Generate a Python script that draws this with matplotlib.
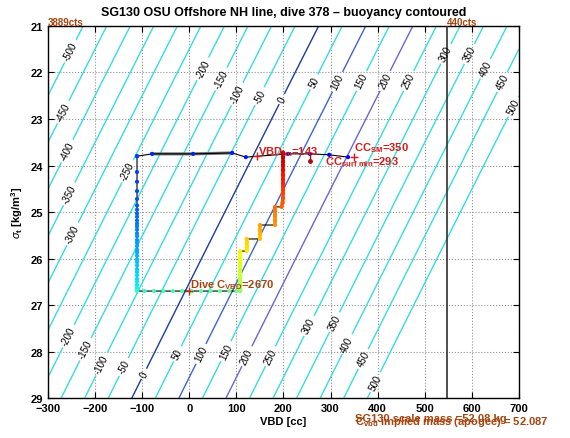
import numpy as np
import matplotlib
matplotlib.use('Agg')
import matplotlib.pyplot as plt
from matplotlib.collections import LineCollection

plt.rcParams['font.family'] = ['Liberation Sans', 'DejaVu Sans']
plt.rcParams['mathtext.fontset'] = 'custom'
plt.rcParams['mathtext.rm'] = 'Liberation Sans:bold'
plt.rcParams['mathtext.it'] = 'Liberation Sans:italic'
plt.rcParams['mathtext.bf'] = 'Liberation Sans:bold'

# glider constants
mass_g = 52087.0       # C_vbd implied mass (apogee)
vol0_cc = 50741.0      # displaced volume at VBD = 0
vbd_max = 547          # 440 cts
buoy_levels = np.arange(-500, 501, 50)
blue_levels = {0: '#1c3c9c', 100: '#4064cc', 200: '#6868d0'}

# contour label sigma positions (upper / lower rows)
upper_lab_sig = [21.54, 22.85, 23.69, 24.61, 25.47, 24.12, 21.92, 22.14, 22.46, 22.51, 22.57,
                 22.20, 22.20, 22.18, 22.18, 22.18, 21.60, 21.60, 21.92, 22.20, 22.74]
lower_lab_lev = [-200, -150, -100, -50, 0, 50, 100, 150, 200, 250, 300, 350, 400, 450, 500]
lower_lab_sig = [27.67, 27.95, 28.27, 28.33, 28.48, 28.05, 28.05, 27.99, 28.10, 28.10,
                 27.45, 27.37, 27.84, 28.16, 28.66]

# surface bleed at start of dive
surf_vbd = [337, 297, 256, 210, 120, 91, 8, -79, -111]
surf_sig = [23.82, 23.77, 23.75, 23.75, 23.82, 23.73, 23.75, 23.75, 23.80]
# descent at minimum VBD
desc_sig = [23.80, 24.14, 24.35, 24.55, 24.72, 24.86, 24.95, 25.03, 25.10, 25.18, 25.25,
            25.31, 25.38, 25.46, 25.52, 25.60, 25.66, 25.73, 25.81, 25.87, 25.94, 26.02,
            26.08, 26.15, 26.23, 26.29, 26.36, 26.44, 26.50, 26.57, 26.63, 26.68]
desc_vbd = [-111] * len(desc_sig)
# apogee pump
apo_vbd = [-111, -95, -75, -55, -35, -15, 5, 25, 45, 65, 85, 100, 108]
apo_sig = [26.70] * len(apo_vbd)
# climb
climb_vbd = [108, 108, 108, 108, 108, 108, 108, 108, 108, 108,
             122, 122, 122, 122, 150, 150, 150, 150,
             182, 182, 182, 182, 182, 196, 198,
             199, 199, 199, 199, 199, 199, 199, 199, 199, 199, 199, 199]
climb_sig = [26.66, 26.58, 26.50, 26.42, 26.34, 26.26, 26.18, 26.10, 26.00, 25.84,
             25.84, 25.76, 25.67, 25.58, 25.58, 25.48, 25.38, 25.28,
             25.28, 25.18, 25.08, 24.98, 24.89, 24.89, 24.80,
             24.70, 24.60, 24.52, 24.45, 24.38, 24.30, 24.20, 24.10, 24.00, 23.92, 23.82, 23.72]

vbd_tm = 143
vbd_tm_sig = 23.80
cc_sm = 350
cc_sm_sig = 23.82
cc_surf_min = 293
dive_cvbd = 2670
dive_cvbd_vbd = 0
tick_vbd = 256
tick_sig = [23.75, 23.90]

red = '#d41a1a'
brown = '#a5450f'


def vbd_on_level(level, sig):
    return level - vol0_cc + mass_g / (1 + sig / 1000.0)


fig = plt.figure(figsize=(5.7, 4.39), dpi=100)
ax = fig.add_axes([0.0842, 0.0911, 0.8263, 0.8474])
ax.set_xlim(-300, 700)
ax.set_ylim(29, 21)

# buoyancy contours
xg = np.linspace(-300, 700, 400)
yg = np.linspace(21, 29, 200)
X, Y = np.meshgrid(xg, yg)
B = X + vol0_cc - mass_g / (1 + Y / 1000.0)
cols = [blue_levels.get(int(l), '#35dede') for l in buoy_levels]
cs = ax.contour(X, Y, B, levels=buoy_levels, colors=cols, linewidths=1.0, zorder=2)
pos = [(vbd_on_level(l, s), s) for l, s in zip(buoy_levels, upper_lab_sig)]
pos += [(vbd_on_level(l, s), s) for l, s in zip(lower_lab_lev, lower_lab_sig)]
ax.clabel(cs, manual=pos, inline=True, inline_spacing=3, fontsize=7, fmt='%d', colors='k')

# label angle along the lines in screen space (y axis is reversed)
p_top = ax.transData.transform((vbd_on_level(0, 22), 22))
p_bot = ax.transData.transform((vbd_on_level(0, 28), 28))
ang = np.degrees(np.arctan2(p_top[1] - p_bot[1], p_top[0] - p_bot[0]))
for t in cs.labelTexts:
    t.set_rotation(ang)

ax.axvline(vbd_max, color='#303030', lw=1.2, zorder=3)

# dive path
all_vbd = surf_vbd + desc_vbd + apo_vbd + climb_vbd
all_sig = surf_sig + desc_sig + apo_sig + climb_sig
ax.plot(surf_vbd[5:8], surf_sig[5:8], color='#707070', lw=2.2, zorder=3.8)
ax.plot(all_vbd, all_sig, color='k', lw=0.8, zorder=4)

cmap = plt.get_cmap('jet')
c_surf = cmap(np.linspace(0.12, 0.17, len(surf_vbd)))
c_desc = cmap(np.linspace(0.18, 0.37, len(desc_vbd)))
c_apo = cmap(np.linspace(0.40, 0.50, len(apo_vbd)))
c_climb = cmap(np.linspace(0.55, 0.95, len(climb_vbd)))

segs, seg_cols = [], []
for i in range(len(climb_vbd) - 1):
    if abs(climb_vbd[i] - climb_vbd[i + 1]) < 3:
        segs.append([(climb_vbd[i], climb_sig[i]), (climb_vbd[i + 1], climb_sig[i + 1])])
        seg_cols.append(c_climb[i])
ax.add_collection(LineCollection(segs, colors=seg_cols, linewidths=2.6, zorder=4.5))

ax.scatter(all_vbd, all_sig, s=9, c=np.vstack([c_surf, c_desc, c_apo, c_climb]),
           edgecolors='none', zorder=5)

# markers
ax.plot([tick_vbd, tick_vbd], tick_sig, color='#a01010', lw=1, zorder=5)
ax.plot(tick_vbd, tick_sig[1], 'o', color='#a01010', ms=2.5, zorder=5)
ax.plot([vbd_tm, cc_sm], [vbd_tm_sig, cc_sm_sig], '+', color=red, ms=6, mew=1, zorder=6)
ax.plot(dive_cvbd_vbd, apo_sig[0], '+', color='#c03010', ms=6, mew=1, zorder=6)

tkw = dict(fontsize=8, fontweight='bold', va='center', zorder=7)
ax.text(vbd_tm + 3, 23.70, r'VBD$_{\rm tm}$=%d' % vbd_tm, color=red, **tkw)
ax.text(cc_sm, 23.60, r'CC$_{\rm SM}$=%d' % cc_sm, color=red, **tkw)
ax.text(288, 23.90, r'CC$_{\rm surf\ min}$=%d' % cc_surf_min, color=red, **tkw)
ax.text(dive_cvbd_vbd + 2, 26.55, r'Dive C$_{\rm VBD}$=%d' % dive_cvbd, color=brown, **tkw)

ax.text(-300, 20.97, '3889cts', color=brown, fontsize=7, fontweight='bold', va='baseline', clip_on=False)
ax.text(vbd_max, 20.97, '440cts', color=brown, fontsize=7, fontweight='bold', va='baseline', clip_on=False)
ax.text(352, 29.44, 'SG130 scale mass =52.08 kg', color=brown, fontsize=8, fontweight='bold',
        va='center', clip_on=False)
ax.text(352, 29.50, r'C$_{\rm vbd}$ implied mass (apogee) = %.3f' % (mass_g / 1000), color=brown,
        fontsize=8, fontweight='bold', va='center', clip_on=False)

ax.set_xticks(np.arange(-300, 701, 100))
ax.set_yticks(np.arange(21, 30, 1))
ax.grid(True, color='#909090', linestyle=':', linewidth=0.8)
ax.set_axisbelow(True)
ax.tick_params(direction='in', top=True, right=True, length=4, labelsize=8)
for lab in ax.get_xticklabels() + ax.get_yticklabels():
    lab.set_fontweight('bold')
for sp in ax.spines.values():
    sp.set_linewidth(1.0)

ax.set_xlabel('VBD [cc]', fontsize=8, fontweight='bold', labelpad=2)
ax.set_ylabel(r'$\sigma_{\rm t}$ [kg/m$^{\rm 3}$]', fontsize=8, fontweight='bold', labelpad=4)
ax.set_title('SG130 OSU Offshore NH line, dive 378 \u2013 buoyancy contoured', fontsize=9,
             fontweight='bold', pad=8)

fig.savefig('out.png', dpi=100)
